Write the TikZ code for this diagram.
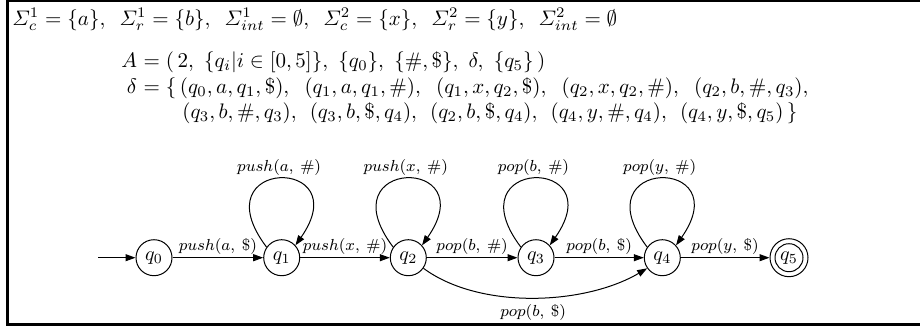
\documentclass[tikz,border=0pt]{standalone}
\usepackage{amsmath}
\usepackage{graphicx}
\usetikzlibrary{arrows.meta}
\newsavebox{\rowbox}
\newlength{\rowgaplen}
\newcommand{\G}{\hspace{\rowgaplen}}
\newcommand{\fitrow}[3]{%
  \setlength{\rowgaplen}{0pt}%
  \sbox{\rowbox}{$#3$}%
  \setlength{\rowgaplen}{\dimexpr(#1-\wd\rowbox)/#2\relax}%
  \scalebox{1.05}{$#3$}}
\begin{document}
\begin{tikzpicture}[x=0.5pt,y=-0.5pt,
  state/.style={circle,draw,line width=0.5pt,minimum size=18pt,inner sep=0pt},
  trans/.style={line width=0.5pt,-{Triangle[length=5pt,width=3.5pt]}},
  lab/.style={font=\footnotesize,inner sep=1.5pt},
  txt/.style={inner sep=0pt},
  frameline/.style={line width=1.5pt}]
\useasboundingbox (0,0) rectangle (920,327);
\draw[frameline] (925,0.75) -- (7,0.75) -- (7,324.2) -- (925,324.2);
% text
\node[txt,anchor=base west] (sig) at (12,25) {\fitrow{288pt}{5}{\varSigma_c^1=\{a\},\G\varSigma_r^1=\{b\},\G\varSigma_{int}^1=\emptyset,\G\varSigma_c^2=\{x\},\G\varSigma_r^2=\{y\},\G\varSigma_{int}^2=\emptyset}};
\node[txt,anchor=base east] (Al) at (137.5,67) {\scalebox{1.05}{$A$}};
\node[txt,anchor=base west] (Ar) at (137.5,67) {\fitrow{194pt}{5}{{}=(\,2,\G\{q_i|i\in[0,5]\},\G\{q_0\},\G\{\#,\$\},\G\delta,\G\{q_5\}\,)}};
\node[txt,anchor=base east] (dl) at (137.5,93) {\scalebox{1.05}{$\delta$}};
\node[txt,anchor=base west] (dr) at (137.5,93) {\fitrow{319.3pt}{4}{{}=\{\,(q_0,a,q_1,\$),\G(q_1,a,q_1,\#),\G(q_1,x,q_2,\$),\G(q_2,x,q_2,\#),\G(q_2,b,\#,q_3),}};
\node[txt,anchor=base west] (d2) at (182,118) {\fitrow{292.9pt}{4}{(q_3,b,\#,q_3),\G(q_3,b,\$,q_4),\G(q_2,b,\$,q_4),\G(q_4,y,\#,q_4),\G(q_4,y,\$,q_5)\,\}}};
% states
\node[state] (q0) at (154,257.7) {$q_0$};
\node[state] (q1) at (281.7,257.7) {$q_1$};
\node[state] (q2) at (408.3,257.7) {$q_2$};
\node[state] (q3) at (536,257.7) {$q_3$};
\node[state] (q4) at (662.3,257.7) {$q_4$};
\node[state,minimum size=19pt] (q5) at (789,257.7) {$q_5$};
\draw[line width=0.5pt] (q5.center) circle[radius=7pt];
\coordinate (init) at (98,257.7);
% transitions
\draw[trans] (init) -- (q0);
\draw[trans] (q0) -- node[lab,above]{$push(a,\:\$)$} (q1);
\draw[trans] (q1) -- node[lab,above]{$push(x,\:\#)$} (q2);
\draw[trans] (q2) -- node[lab,above]{$pop(b,\:\#)$} (q3);
\draw[trans] (q3) -- node[lab,above]{$pop(b,\:\$)$} (q4);
\draw[trans] (q4) -- node[lab,above]{$pop(y,\:\$)$} (q5);
\draw[trans] (q1.145) .. controls +(-68,-90) and +(63,-90) .. (q1.42) node[lab,above,pos=0.5]{$push(a,\:\#)$};
\draw[trans] (q2.145) .. controls +(-68,-90) and +(63,-90) .. (q2.42) node[lab,above,pos=0.5]{$push(x,\:\#)$};
\draw[trans] (q3.145) .. controls +(-68,-90) and +(63,-90) .. (q3.42) node[lab,above,pos=0.5]{$pop(b,\:\#)$};
\draw[trans] (q4.145) .. controls +(-68,-90) and +(63,-90) .. (q4.42) node[lab,above,pos=0.5]{$pop(y,\:\#)$};
\draw[trans] (q2.-35) .. controls (480,310) and (585,305) .. (q4.-145) node[lab,below,pos=0.5,inner sep=3pt]{$pop(b,\:\$)$};
\end{tikzpicture}
\end{document}
